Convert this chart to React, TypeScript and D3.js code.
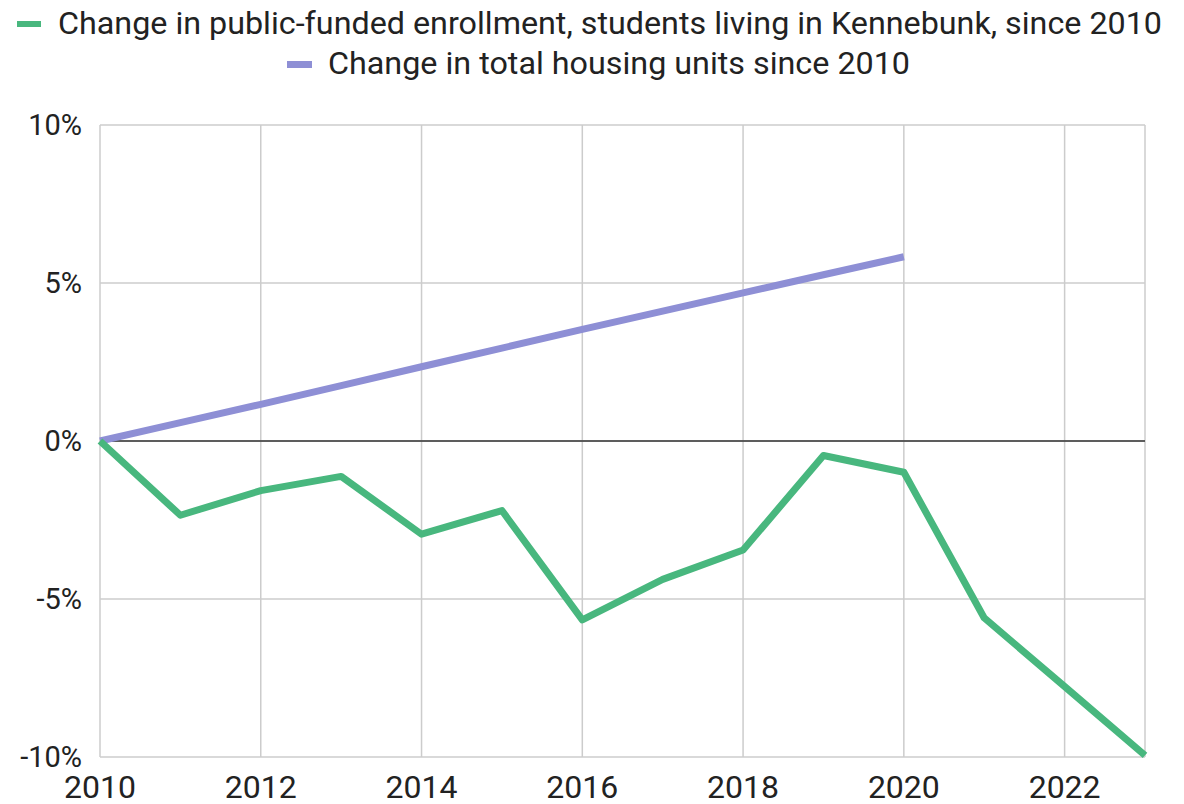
import React from "react";
import * as d3 from "d3";

const years = [2010, 2011, 2012, 2013, 2014, 2015, 2016, 2017, 2018, 2019, 2020, 2021, 2022, 2023];
const enrollment = [0, -2.35, -1.57, -1.12, -2.95, -2.2, -5.66, -4.38, -3.45, -0.46, -0.99, -5.6, -7.77, -9.95];
const housingYears = [2010, 2011, 2012, 2013, 2014, 2015, 2016, 2017, 2018, 2019, 2020];
const housing = [0, 0.58, 1.16, 1.75, 2.35, 2.94, 3.53, 4.11, 4.69, 5.26, 5.83];
const yTicks = [10, 5, 0, -5, -10];
const xTicks = [2010, 2012, 2014, 2016, 2018, 2020, 2022];
const seriesNames = [
  "Change in public-funded enrollment, students living in Kennebunk, since 2010",
  "Change in total housing units since 2010",
];
const colors = ["#48b77e", "#8e8fd5"];

export default function App() {
  const W = 1184, H = 804;
  const left = 100, right = 1145, top = 125, bottom = 757;
  const x = d3.scaleLinear().domain([2010, 2023]).range([left, right]);
  const y = d3.scaleLinear().domain([-10, 10]).range([bottom, top]);
  const line = d3.line<[number, number]>().x((d) => x(d[0])).y((d) => y(d[1]));
  const enrPath = line(years.map((yr, i) => [yr, enrollment[i]]))!;
  const houPath = line(housingYears.map((yr, i) => [yr, housing[i]]))!;
  const font = "Roboto, 'Noto Sans', sans-serif";
  const gridX = [...xTicks, 2023];
  return (
    <svg width={W} height={H} style={{ position: "absolute", left: 0, top: 0, background: "#fff" }} fontFamily={font}>
      <rect x={0} y={0} width={W} height={H} fill="#fff" />
      {/* legend */}
      <rect x={17} y={21} width={24} height={6} fill={colors[0]} />
      <text x={58} y={34} fontSize={31} fill="#222" textLength={1104} lengthAdjust="spacingAndGlyphs">{seriesNames[0]}</text>
      <rect x={287} y={61} width={25} height={7} fill={colors[1]} />
      <text x={328} y={74} fontSize={31} fill="#222" textLength={582} lengthAdjust="spacingAndGlyphs">{seriesNames[1]}</text>
      {/* grid */}
      {yTicks.map((t) => (
        <line key={"gy" + t} x1={left} x2={right} y1={y(t)} y2={y(t)} stroke="#cccccc" strokeWidth={1.5} />
      ))}
      {gridX.map((t) => (
        <line key={"gx" + t} x1={x(t)} x2={x(t)} y1={top} y2={bottom} stroke="#cccccc" strokeWidth={1.5} />
      ))}
      <line x1={left} x2={right} y1={y(0)} y2={y(0)} stroke="#333" strokeWidth={1.5} />
      {/* y labels */}
      {yTicks.map((t) => (
        <text key={"ly" + t} x={82} y={y(t) + 10} textAnchor="end" fontSize={29} fill="#222">{t + "%"}</text>
      ))}
      {/* x labels */}
      {xTicks.map((t) => (
        <text key={"lx" + t} x={x(t)} y={798} textAnchor="middle" fontSize={32} fill="#222">{t}</text>
      ))}
      {/* lines */}
      <path d={houPath} fill="none" stroke={colors[1]} strokeWidth={7} strokeLinejoin="round" />
      <path d={enrPath} fill="none" stroke={colors[0]} strokeWidth={7} strokeLinejoin="round" />
    </svg>
  );
}
